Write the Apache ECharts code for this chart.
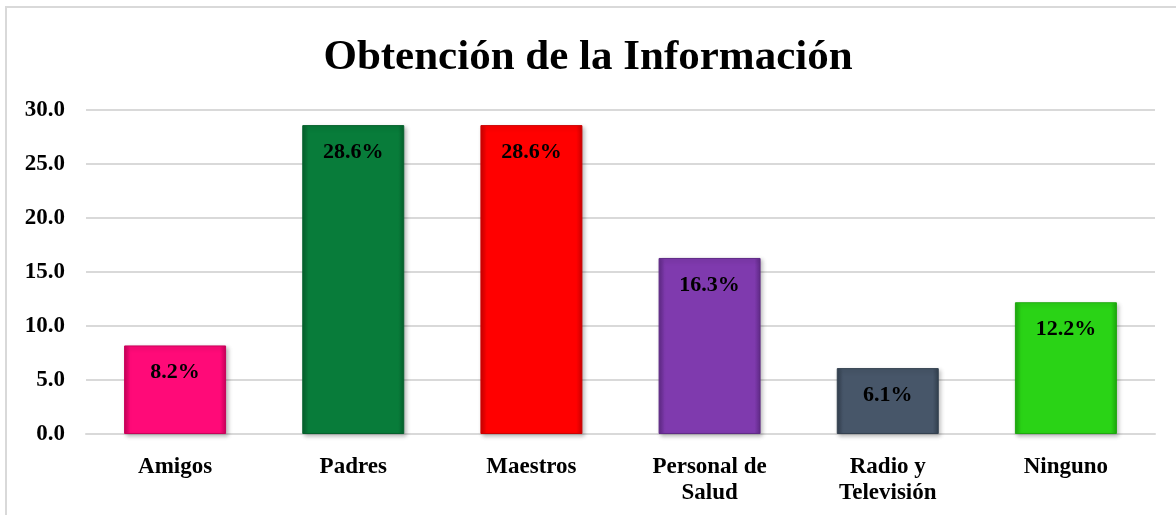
<!DOCTYPE html>
<html>
<head>
<meta charset="utf-8">
<script src="https://cdn.jsdelivr.net/npm/echarts@6/dist/echarts.min.js"></script>
<style>
    html, body { margin: 0; padding: 0; background: #fff; }
    #chart { width: 1176px; height: 515px; }
</style>
</head>
<body>
<div id="chart"></div>
<script>
    // data
    var categories = ['Amigos', 'Padres', 'Maestros', 'Personal de\nSalud', 'Radio y\nTelevisión', 'Ninguno'];
    var values = [8.2, 28.6, 28.6, 16.3, 6.1, 12.2];
    var colorList = ['#ff0a78', '#087c3a', '#ff0000', '#7f3aae', '#475669', '#2ad316'];
    var darkList = ['#c8005a', '#05602c', '#cc0000', '#5f2a86', '#33404f', '#1ea80e'];

    var serif = '"Liberation Serif", "Times New Roman", serif';

    var chart = echarts.init(document.getElementById('chart'));
    var option = {
        backgroundColor: '#fff',
        animation: false,
        title: {
            text: 'Obtención de la Información',
            left: 'center',
            top: 31,
            textStyle: {
                color: '#000',
                fontFamily: serif,
                fontWeight: 'bold',
                fontSize: 43
            }
        },
        graphic: [{
            type: 'rect',
            shape: { x: 6, y: 7, width: 1300, height: 700 },
            style: { fill: 'none', stroke: '#d9d9d9', lineWidth: 2 },
            silent: true
        }],
        grid: {
            left: 86,
            right: 21,
            top: 110,
            bottom: 81
        },
        xAxis: {
            type: 'category',
            data: categories,
            axisLine: { show: true, lineStyle: { color: '#d9d9d9', width: 2 } },
            axisTick: { show: false },
            axisLabel: {
                interval: 0,
                color: '#000',
                fontFamily: serif,
                fontWeight: 'bold',
                fontSize: 23,
                lineHeight: 26,
                margin: 20
            }
        },
        yAxis: {
            type: 'value',
            min: 0,
            max: 30,
            interval: 5,
            axisLine: { show: false },
            axisTick: { show: false },
            splitLine: { lineStyle: { color: '#d9d9d9', width: 2 } },
            axisLabel: {
                color: '#000',
                fontFamily: serif,
                fontWeight: 'bold',
                fontSize: 23,
                margin: 21,
                formatter: function (v) { return v.toFixed(1); }
            }
        },
        series: [{
            type: 'bar',
            barWidth: 102,
            data: values.map(function (v, i) {
                return {
                    value: v,
                    itemStyle: {
                        color: new echarts.graphic.LinearGradient(0, 0, 1, 0, [
                            { offset: 0, color: darkList[i] },
                            { offset: 0.06, color: colorList[i] },
                            { offset: 0.94, color: colorList[i] },
                            { offset: 1, color: darkList[i] }
                        ]),
                        borderColor: darkList[i],
                        borderWidth: 1,
                        shadowColor: 'rgba(0,0,0,0.25)',
                        shadowBlur: 4,
                        shadowOffsetX: 2,
                        shadowOffsetY: 2
                    }
                };
            }),
            label: {
                show: true,
                position: 'insideTop',
                distance: 16,
                color: '#000',
                fontFamily: serif,
                fontWeight: 'bold',
                fontSize: 22,
                formatter: function (p) { return p.value.toFixed(1) + '%'; }
            }
        }]
    };
    chart.setOption(option);
</script>
</body>
</html>
